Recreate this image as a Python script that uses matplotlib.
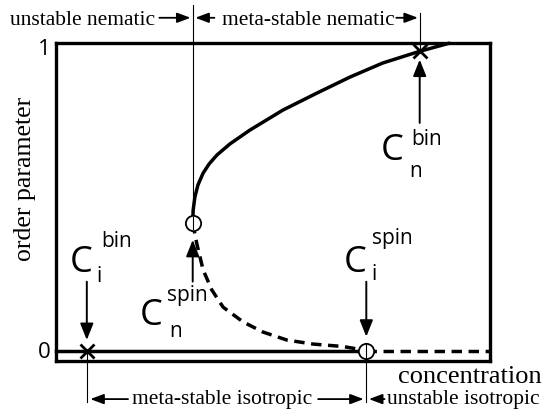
import matplotlib
matplotlib.use('Agg')
import matplotlib.pyplot as plt

DPI = 100
PT = 72 / DPI  # points per pixel

# ---------------- data ----------------
# solid (stable / meta-stable) nematic branch
upper_x = [0.315, 0.316, 0.320, 0.327, 0.339, 0.353, 0.371, 0.401, 0.447,
           0.523, 0.601, 0.677, 0.753, 0.838, 0.908]
upper_y = [0.414, 0.456, 0.499, 0.538, 0.577, 0.607, 0.636, 0.672, 0.717,
           0.782, 0.837, 0.889, 0.935, 0.973, 1.000]
# dashed (unstable) branch connecting the two spinodals
lower_x = [0.315, 0.324, 0.339, 0.359, 0.385, 0.431, 0.477, 0.532, 0.592, 0.661, 0.715]
lower_y = [0.414, 0.350, 0.262, 0.197, 0.141, 0.093, 0.060, 0.034, 0.021, 0.013, 0.000]
# isotropic branch: solid up to isotropic spinodal, dashed beyond
iso_solid_x = [0.0, 0.715]
iso_solid_y = [0.0, 0.0]
iso_dash_x = [0.715, 1.0]
iso_dash_y = [0.0, 0.0]

# binodal points (crosses) and spinodal points (circles)
bin_names = ['i', 'n']
bin_x = [0.071, 0.838]
bin_y = [0.0, 0.973]
spin_names = ['n', 'i']
spin_x = [0.315, 0.715]
spin_y = [0.414, 0.0]

ytick_vals = [0, 1]
ytick_labels = ['0', '1']

SANS = 'Open Sans'
SERIF = 'Liberation Serif'

# ---------------- figure ----------------
fig = plt.figure(figsize=(5.48, 4.12), dpi=DPI)
ax = fig.add_axes([56 / 548, (412 - 360.5) / 412, 434 / 548, (360.5 - 43) / 412])
ax.set_xlim(0, 1)
ax.set_ylim(-0.0325, 1.0)
ax.set_xticks([])
ax.set_yticks([])
for s in ax.spines.values():
    s.set_linewidth(2.4)
    s.set_color('black')

LW = 2.5
ax.plot(upper_x, upper_y, color='black', lw=LW, solid_capstyle='butt',
        solid_joinstyle='round', clip_on=False)
ax.plot(lower_x, lower_y, color='black', lw=LW, linestyle=(0, (3.0, 1.9)), clip_on=False)
ax.plot(iso_solid_x, iso_solid_y, color='black', lw=LW, clip_on=False)
ax.plot(iso_dash_x, iso_dash_y, color='black', lw=LW, linestyle=(0, (3.0, 1.9)), clip_on=False)

# guide lines (thin verticals)
ax.plot([spin_x[0], spin_x[0]], [spin_y[0], 1.124], color='black', lw=0.8, clip_on=False)
ax.plot([bin_x[1], bin_x[1]], [bin_y[1], 1.098], color='black', lw=0.8, clip_on=False)
ax.plot([bin_x[0], bin_x[0]], [bin_y[0], -0.167], color='black', lw=0.8, clip_on=False)
ax.plot([spin_x[1], spin_x[1]], [spin_y[1], -0.167], color='black', lw=0.8, clip_on=False)

# markers
ax.plot(bin_x, bin_y, linestyle='none', marker='x', ms=10, mew=2.0, color='black', clip_on=False, zorder=5)
ax.plot(spin_x, spin_y, linestyle='none', marker='o', ms=11, mew=1.3, mfc='white',
        mec='black', clip_on=False, zorder=5)
# vertical line through the spinodal circles (cross-hair look)
ax.plot([spin_x[1], spin_x[1]], [spin_y[1] - 0.025, spin_y[1] + 0.025], color='black', lw=0.8,
        clip_on=False, zorder=6)
ax.plot([spin_x[0], spin_x[0]], [spin_y[0] - 0.02, spin_y[0] + 0.02], color='black', lw=0.8,
        clip_on=False, zorder=6)


def pointer(x, y, tail_px, gap_px):
    ax.annotate('', xy=(x, y), xytext=(0, tail_px * PT), textcoords='offset points',
                arrowprops=dict(arrowstyle='-|>,head_length=1.0,head_width=0.4',
                                mutation_scale=10, lw=1.4, color='black',
                                shrinkA=0, shrinkB=gap_px * PT),
                annotation_clip=False)


def label(x, y, sup, sub, c_off, sup_off, sub_off):
    ax.annotate('C', xy=(x, y), xytext=(c_off[0] * PT, c_off[1] * PT), textcoords='offset points',
                ha='center', va='baseline', fontsize=26, family=SANS, annotation_clip=False)
    ax.annotate(sup, xy=(x, y), xytext=(sup_off[0] * PT, sup_off[1] * PT), textcoords='offset points',
                ha='left', va='baseline', fontsize=15, family=SANS, annotation_clip=False)
    ax.annotate(sub, xy=(x, y), xytext=(sub_off[0] * PT, sub_off[1] * PT), textcoords='offset points',
                ha='left', va='baseline', fontsize=15, family=SANS, annotation_clip=False)


# C_i^bin
pointer(bin_x[0], bin_y[0], 68.8, 10.5)
label(bin_x[0], bin_y[0], 'bin', bin_names[0], (-6, 78.5), (14, 103.5), (10, 68.5))
# C_n^bin
pointer(bin_x[1], bin_y[1], -71.6, 8.3)
label(bin_x[1], bin_y[1], 'bin', bin_names[1], (-27.8, -108.3), (-8, -93.3), (-10, -125.3))
# C_n^spin
pointer(spin_x[0], spin_y[0], -58.4, 16.7)
label(spin_x[0], spin_y[0], 'spin', spin_names[0], (-41.7, -101.7), (-25.5, -77.7), (-23.5, -113.7))
# C_i^spin
pointer(spin_x[1], spin_y[1], 68.8, 13.8)
label(spin_x[1], spin_y[1], 'spin', spin_names[1], (-11.5, 78.5), (5.5, 106.5), (5.5, 70.5))

# y tick labels
tick_base_px = [-7.5, -12.0]
for v, lab, b in zip(ytick_vals, ytick_labels, tick_base_px):
    ax.annotate(lab, xy=(0, v), xytext=(-11.5 * PT, b * PT), textcoords='offset points',
                ha='center', va='baseline', fontsize=16, family=SANS, annotation_clip=False)

# axis titles
ax.text(-0.072, 0.558, 'order parameter', rotation=90, ha='center', va='center',
        fontsize=18.5, family=SERIF, transform=ax.transData, clip_on=False)
ax.text(0.788, -0.105, 'concentration', ha='left', va='baseline',
        fontsize=19, family=SERIF, clip_on=False)


# region annotations with arrows
def harrow(x0, x1, y):
    ax.annotate('', xy=(x1, y), xytext=(x0, y),
                arrowprops=dict(arrowstyle='-|>,head_length=0.8,head_width=0.3',
                                mutation_scale=10, lw=1.3, color='black',
                                shrinkA=0, shrinkB=0),
                annotation_clip=False)


TFS = 15.5
ytop_txt, ytop_arr = 1.057, 1.082
ax.text(0.229, ytop_txt, 'unstable nematic', ha='right', va='baseline', fontsize=TFS, family=SERIF, clip_on=False)
harrow(0.238, spin_x[0] - 0.005, ytop_arr)
harrow(0.365, spin_x[0] + 0.006, ytop_arr)
ax.text(0.382, ytop_txt, 'meta-stable nematic', ha='left', va='baseline', fontsize=TFS, family=SERIF, clip_on=False)
harrow(0.784, bin_x[1] - 0.004, ytop_arr)

ybot_txt, ybot_arr = -0.174, -0.158
harrow(0.166, bin_x[0] + 0.008, ybot_arr)
ax.text(0.176, ybot_txt, 'meta-stable isotropic', ha='left', va='baseline', fontsize=TFS, family=SERIF, clip_on=False)
harrow(0.604, spin_x[1] - 0.006, ybot_arr)
harrow(0.757, spin_x[1] + 0.006, ybot_arr)
ax.text(0.762, ybot_txt, 'unstable isotropic', ha='left', va='baseline', fontsize=TFS, family=SERIF, clip_on=False)

fig.savefig('out.png', dpi=DPI)
